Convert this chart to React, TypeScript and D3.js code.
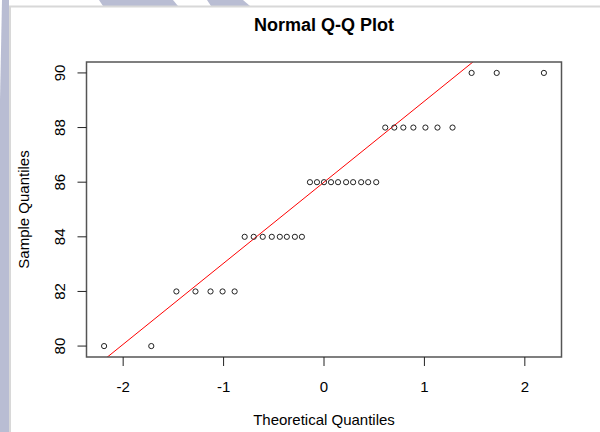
import * as d3 from "d3"

// sorted sample values and the normal quantiles they are plotted against
const sampleQuantiles = [
  80, 80,
  82, 82, 82, 82, 82,
  84, 84, 84, 84, 84, 84, 84, 84,
  86, 86, 86, 86, 86, 86, 86, 86, 86, 86,
  88, 88, 88, 88, 88, 88, 88,
  90, 90, 90
]
const theoreticalQuantiles = [
  -2.19, -1.72, -1.47, -1.28, -1.13, -1.01, -0.89, -0.79, -0.70, -0.61,
  -0.52, -0.44, -0.37, -0.29, -0.22, -0.14, -0.07, 0, 0.07, 0.14,
  0.22, 0.29, 0.37, 0.44, 0.52, 0.61, 0.70, 0.79, 0.89, 1.01,
  1.13, 1.28, 1.47, 1.72, 2.19
]

// qqline goes through the first and third quartiles
const lineX = [-0.674, 0.674]
const lineY = [84, 88]

const xTicks = [-2, -1, 0, 1, 2]
const yTicks = [80, 82, 84, 86, 88, 90]

const title = "Normal Q-Q Plot"
const xTitle = "Theoretical Quantiles"
const yTitle = "Sample Quantiles"

export default function App() {
  const width = 600
  const height = 432
  const left = 86.5, right = 561.5, top = 62, bottom = 357

  // R pads the data range by 4% on each side
  const pad = (ext: [number, number]) => {
    const d = (ext[1] - ext[0]) * 0.04
    return [ext[0] - d, ext[1] + d]
  }
  const x = d3.scaleLinear()
    .domain(pad(d3.extent(theoreticalQuantiles) as [number, number]))
    .range([left, right])
  const y = d3.scaleLinear()
    .domain(pad(d3.extent(sampleQuantiles) as [number, number]))
    .range([bottom, top])

  const slope = (lineY[1] - lineY[0]) / (lineX[1] - lineX[0])
  const intercept = lineY[0] - slope * lineX[0]
  const [x0, x1] = x.domain()
  const qqline = d3.line<number>()
    .x(d => x(d))
    .y(d => y(intercept + slope * d))([x0, x1])

  const font = "'Liberation Sans', Arial, sans-serif"
  const lav = "#b9bdd3"

  return (
    <svg width={width} height={height}
      style={{ position: "absolute", left: 0, top: 0, display: "block" }}
      fontFamily={font}>
      <defs>
        <clipPath id="plot">
          <rect x={left} y={top} width={right - left} height={bottom - top} />
        </clipPath>
      </defs>

      {/* page background */}
      <rect x={0} y={0} width={width} height={height} fill="#ffffff" />
      <polygon points="2,0 9,0 9,432 0,432 0,100" fill={lav} />
      <polygon points="99,0 173,0 178,6 103,6" fill={lav} />
      <polygon points="207,0 243,0 250,6 211,6" fill={lav} />
      <rect x={10} y={6.5} width={591} height={427} fill="#ffffff"
        stroke="#d8d8d8" strokeWidth={2} />

      <text x={(left + right) / 2} y={31} textAnchor="middle"
        fontSize={18} fontWeight="bold" fill="#000">{title}</text>

      {/* qq line */}
      <path d={qqline ?? ""} stroke="#ff0000" strokeWidth={1} fill="none"
        clipPath="url(#plot)" />

      {sampleQuantiles.map((v, i) => (
        <circle key={i} cx={x(theoreticalQuantiles[i])} cy={y(v)} r={2.6}
          fill="none" stroke="#222" strokeWidth={1} />
      ))}

      <rect x={left} y={top} width={right - left} height={bottom - top}
        fill="none" stroke="#555" strokeWidth={1.5} />

      {/* x axis */}
      {xTicks.map(t => (
        <g key={t}>
          <line x1={x(t)} x2={x(t)} y1={bottom} y2={bottom + 9}
            stroke="#222" strokeWidth={1} />
          <text x={x(t)} y={392} textAnchor="middle" fontSize={15}
            fill="#000">{t}</text>
        </g>
      ))}
      <text x={(left + right) / 2} y={425} textAnchor="middle" fontSize={15}
        fill="#000">{xTitle}</text>

      {/* y axis */}
      {yTicks.map(t => (
        <g key={t}>
          <line x1={left - 9} x2={left} y1={y(t)} y2={y(t)}
            stroke="#222" strokeWidth={1} />
          <text transform={`translate(65,${y(t)}) rotate(-90)`}
            textAnchor="middle" fontSize={15} fill="#000">{t}</text>
        </g>
      ))}
      <text transform={`translate(29,${(top + bottom) / 2}) rotate(-90)`}
        textAnchor="middle" fontSize={15} fill="#000">{yTitle}</text>
    </svg>
  )
}
